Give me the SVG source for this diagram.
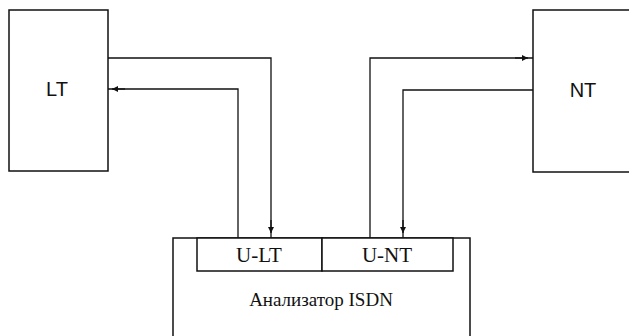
<svg xmlns="http://www.w3.org/2000/svg" width="629" height="336" viewBox="0 0 629 336">
<style>
.box{fill:#fff;stroke:#111;stroke-width:1.5}
.ln{fill:none;stroke:#111;stroke-width:1.3}
.sans{font-family:"Liberation Sans",Arial,sans-serif;font-size:20px;fill:#111}
.serif{font-family:"Liberation Serif","Times New Roman",serif;fill:#111}
</style>
<defs>
<marker id="ah" viewBox="0 0 10 10" refX="10" refY="5" markerWidth="6" markerHeight="6" orient="auto" markerUnits="userSpaceOnUse">
<path d="M0,0 L10,5 L0,10 z" fill="#111"/>
</marker>
</defs>
<rect width="629" height="336" fill="#fff"/>
<g id="LT">
<rect class="box" x="9" y="10" width="99" height="161"/>
<text class="sans" x="57" y="96" text-anchor="middle">LT</text>
</g>
<g id="NT">
<rect class="box" x="533" y="10" width="110" height="162"/>
<text class="sans" x="583" y="97" text-anchor="middle">NT</text>
</g>
<g id="analyzer">
<rect class="box" x="173" y="238" width="297" height="110"/>
<text class="serif" x="321" y="306" text-anchor="middle" font-size="19">Анализатор ISDN</text>
</g>
<g id="U-LT">
<rect class="box" x="197" y="238" width="125" height="33"/>
<text class="serif" x="259" y="262" text-anchor="middle" font-size="21">U-LT</text>
</g>
<g id="U-NT">
<rect class="box" x="322" y="238" width="131" height="33"/>
<text class="serif" x="387" y="262" text-anchor="middle" font-size="21">U-NT</text>
</g>
<g id="connectors">
<path class="ln" d="M108,58 H271 V238"/>
<path class="ln" d="M271,220 V233" marker-end="url(#ah)"/>
<path class="ln" d="M238,238 V89 H108"/>
<path class="ln" d="M125,89 H112" marker-end="url(#ah)"/>
<path class="ln" d="M370,238 V58 H533"/>
<path class="ln" d="M515,58 H528" marker-end="url(#ah)"/>
<path class="ln" d="M533,90 H403 V238"/>
<path class="ln" d="M403,220 V233" marker-end="url(#ah)"/>
</g>
</svg>
